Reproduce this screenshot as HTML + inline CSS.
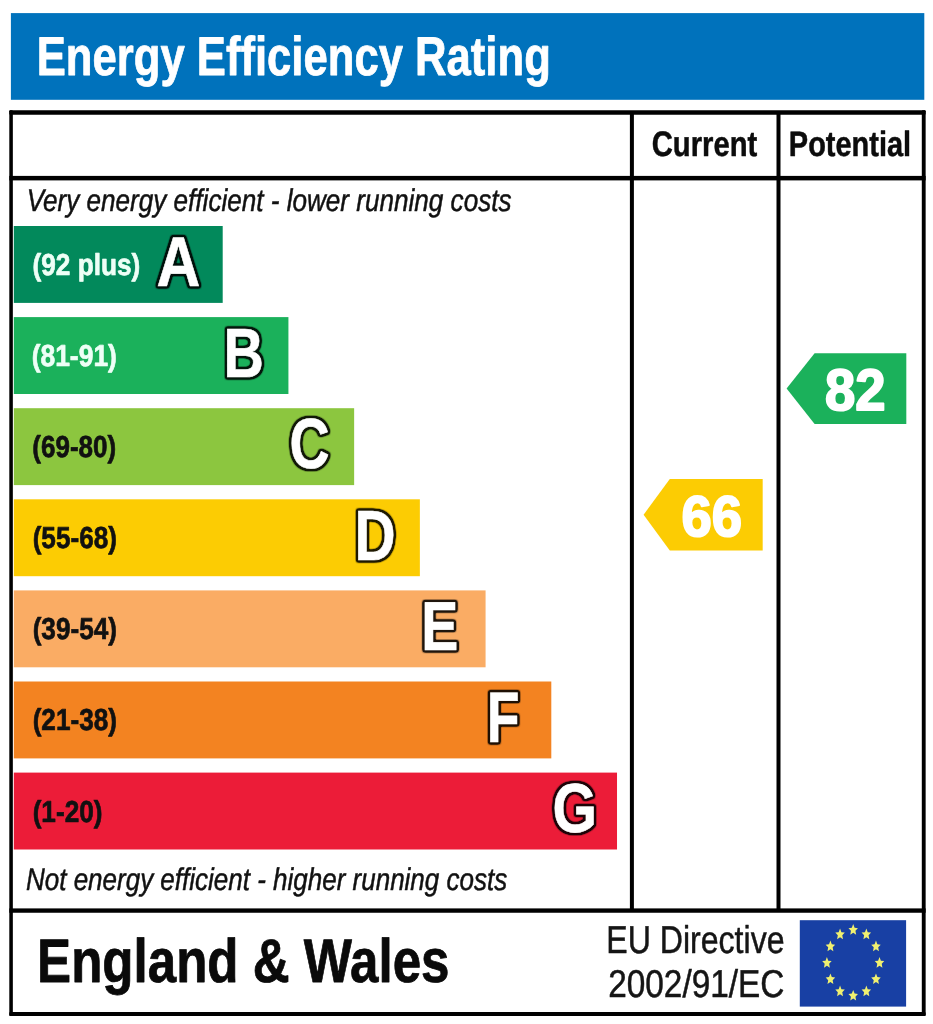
<!DOCTYPE html>
<html lang="en">
<head>
<meta charset="utf-8">
<title>Energy Efficiency Rating</title>
<style>
html,body{margin:0;padding:0;background:#fff;}
body{width:933px;height:1024px;overflow:hidden;font-family:"Liberation Sans",Arial,sans-serif;}
svg{display:block;}
</style>
</head>
<body>
<svg width="933" height="1024" viewBox="0 0 933 1024" font-family="Liberation Sans, Arial, Helvetica, sans-serif" xml:space="preserve" text-rendering="geometricPrecision">
<defs><filter id="ol" x="-15%" y="-15%" width="130%" height="130%" color-interpolation-filters="sRGB"><feMorphology in="SourceAlpha" operator="dilate" radius="1" result="d"/><feGaussianBlur in="d" stdDeviation="0.9" result="g"/><feComponentTransfer in="g" result="b"><feFuncA type="linear" slope="5" intercept="0"/></feComponentTransfer><feFlood flood-color="#000000" flood-opacity="0.88"/><feComposite in2="b" operator="in" result="o"/><feMerge><feMergeNode in="o"/><feMergeNode in="SourceGraphic"/></feMerge></filter></defs>
<rect x="0" y="0" width="933" height="1024" fill="#ffffff"/>
<rect x="10.9" y="13.1" width="913.4" height="86.7" fill="#0072bc"/>
<text transform="translate(36.76,74.80) scale(0.8006,1)" font-size="54.5" font-weight="bold" font-style="normal" fill="#ffffff"  stroke="#ffffff" stroke-width="0.8" vector-effect="non-scaling-stroke" stroke-linejoin="round">Energy Efficiency Rating</text>
<rect x="13.8" y="226.00" width="208.90" height="76.9" fill="#02895b"/>
<text transform="translate(32.54,274.90) scale(0.8650,1)" font-size="30.3" font-weight="bold" font-style="normal" fill="#eefff6"  stroke="#eefff6" stroke-width="0.7" vector-effect="non-scaling-stroke" stroke-linejoin="round">(92 plus)</text>
<g filter="url(#ol)"><text transform="translate(156.43,285.55) scale(0.8607,1)" font-size="70.58" font-weight="bold" font-style="normal" fill="#ffffff" stroke="#ffffff" stroke-width="0.6" vector-effect="non-scaling-stroke" stroke-linejoin="round">A</text></g>
<rect x="13.8" y="317.10" width="274.62" height="76.9" fill="#1bb15b"/>
<text transform="translate(31.63,366.00) scale(0.8734,1)" font-size="30.3" font-weight="bold" font-style="normal" fill="#eefff6"  stroke="#eefff6" stroke-width="0.7" vector-effect="non-scaling-stroke" stroke-linejoin="round">(81-91)</text>
<g filter="url(#ol)"><text transform="translate(223.62,376.75) scale(0.8019,1)" font-size="69.71" font-weight="bold" font-style="normal" fill="#ffffff" stroke="#ffffff" stroke-width="0.6" vector-effect="non-scaling-stroke" stroke-linejoin="round">B</text></g>
<rect x="13.8" y="408.20" width="340.34" height="76.9" fill="#8cc63f"/>
<text transform="translate(32.35,457.10) scale(0.8586,1)" font-size="30.3" font-weight="bold" font-style="normal" fill="#111111"  stroke="#111111" stroke-width="0.7" vector-effect="non-scaling-stroke" stroke-linejoin="round">(69-80)</text>
<g filter="url(#ol)"><text transform="translate(289.43,467.94) scale(0.7797,1)" font-size="71.27" font-weight="bold" font-style="normal" fill="#ffffff" stroke="#ffffff" stroke-width="0.6" vector-effect="non-scaling-stroke" stroke-linejoin="round">C</text></g>
<rect x="13.8" y="499.30" width="406.06" height="76.9" fill="#fccc03"/>
<text transform="translate(32.64,548.20) scale(0.8628,1)" font-size="30.3" font-weight="bold" font-style="normal" fill="#111111"  stroke="#111111" stroke-width="0.7" vector-effect="non-scaling-stroke" stroke-linejoin="round">(55-68)</text>
<g filter="url(#ol)"><text transform="translate(354.45,559.55) scale(0.7982,1)" font-size="71.3" font-weight="bold" font-style="normal" fill="#ffffff" stroke="#ffffff" stroke-width="0.6" vector-effect="non-scaling-stroke" stroke-linejoin="round">D</text></g>
<rect x="13.8" y="590.40" width="471.78" height="76.9" fill="#faac64"/>
<text transform="translate(32.64,639.30) scale(0.8628,1)" font-size="30.3" font-weight="bold" font-style="normal" fill="#111111"  stroke="#111111" stroke-width="0.7" vector-effect="non-scaling-stroke" stroke-linejoin="round">(39-54)</text>
<g filter="url(#ol)"><text transform="translate(421.14,649.95) scale(0.8022,1)" font-size="69.28" font-weight="bold" font-style="normal" fill="#ffffff" stroke="#ffffff" stroke-width="0.6" vector-effect="non-scaling-stroke" stroke-linejoin="round">E</text></g>
<rect x="13.8" y="681.50" width="537.50" height="76.9" fill="#f38321"/>
<text transform="translate(32.64,730.40) scale(0.8628,1)" font-size="30.3" font-weight="bold" font-style="normal" fill="#111111"  stroke="#111111" stroke-width="0.7" vector-effect="non-scaling-stroke" stroke-linejoin="round">(21-38)</text>
<g filter="url(#ol)"><text transform="translate(486.86,742.21) scale(0.7495,1)" font-size="71.68" font-weight="bold" font-style="normal" fill="#ffffff" stroke="#ffffff" stroke-width="0.6" vector-effect="non-scaling-stroke" stroke-linejoin="round">F</text></g>
<rect x="13.8" y="772.60" width="603.22" height="76.9" fill="#ec1c38"/>
<text transform="translate(32.64,821.50) scale(0.8642,1)" font-size="30.3" font-weight="bold" font-style="normal" fill="#111111"  stroke="#111111" stroke-width="0.7" vector-effect="non-scaling-stroke" stroke-linejoin="round">(1-20)</text>
<g filter="url(#ol)"><text transform="translate(552.46,832.06) scale(0.8273,1)" font-size="69.3" font-weight="bold" font-style="normal" fill="#ffffff" stroke="#ffffff" stroke-width="0.6" vector-effect="non-scaling-stroke" stroke-linejoin="round">G</text></g>
<text transform="translate(26.63,211.20) scale(0.8337,1)" font-size="31.3" font-weight="normal" font-style="italic" fill="#111111"  stroke="#111111" stroke-width="0.5" vector-effect="non-scaling-stroke" stroke-linejoin="round">Very energy efficient - lower running costs</text>
<text transform="translate(25.97,889.70) scale(0.8307,1)" font-size="31.3" font-weight="normal" font-style="italic" fill="#111111"  stroke="#111111" stroke-width="0.5" vector-effect="non-scaling-stroke" stroke-linejoin="round">Not energy efficient - higher running costs</text>
<rect x="9.30" y="110.20" width="916.35" height="4.50" fill="#000000" rx="1"/>
<rect x="9.30" y="1012.10" width="916.35" height="4.00" fill="#000000" rx="1"/>
<rect x="9.30" y="110.20" width="3.55" height="905.90" fill="#000000" rx="1"/>
<rect x="921.80" y="110.20" width="3.85" height="905.90" fill="#000000" rx="1"/>
<rect x="9.30" y="175.90" width="916.35" height="4.50" fill="#000000" />
<rect x="9.30" y="908.40" width="916.35" height="4.35" fill="#000000" />
<rect x="629.90" y="112.00" width="4.00" height="799.00" fill="#000000" />
<rect x="776.50" y="112.00" width="4.00" height="799.00" fill="#000000" />
<text transform="translate(651.68,156.00) scale(0.8284,1)" font-size="35.3" font-weight="bold" font-style="normal" fill="#0c0c0c"  stroke="#0c0c0c" stroke-width="0.5" vector-effect="non-scaling-stroke" stroke-linejoin="round">Current</text>
<text transform="translate(788.87,156.00) scale(0.8204,1)" font-size="35.3" font-weight="bold" font-style="normal" fill="#0c0c0c"  stroke="#0c0c0c" stroke-width="0.5" vector-effect="non-scaling-stroke" stroke-linejoin="round">Potential</text>
<polygon points="643.6,514.7 669.8,479.0 762.7,479.0 762.7,550.5 669.8,550.5" fill="#fccc03"/>
<text transform="translate(681.40,535.63) scale(0.9518,1)" font-size="57.18" font-weight="bold" font-style="normal" fill="#ffffff" stroke="#ffffff" stroke-width="2.0" vector-effect="non-scaling-stroke" stroke-linejoin="round">66</text>
<polygon points="786.6,388.6 814.6,353.2 906.3,353.2 906.3,424.0 814.6,424.0" fill="#1bb15b"/>
<text transform="translate(824.96,409.82) scale(0.9350,1)" font-size="58.31" font-weight="bold" font-style="normal" fill="#ffffff" stroke="#ffffff" stroke-width="2.0" vector-effect="non-scaling-stroke" stroke-linejoin="round">82</text>
<text transform="translate(37.08,982.00) scale(0.8292,1)" font-size="61.6" font-weight="bold" font-style="normal" fill="#0a0a0a"  stroke="#0a0a0a" stroke-width="0.8" vector-effect="non-scaling-stroke" stroke-linejoin="round">England &amp; Wales</text>
<text transform="translate(606.28,952.70) scale(0.8268,1)" font-size="38.8" font-weight="normal" font-style="normal" fill="#151515"  stroke="#151515" stroke-width="0.5" vector-effect="non-scaling-stroke" stroke-linejoin="round">EU Directive</text>
<text transform="translate(608.18,996.60) scale(0.8601,1)" font-size="38.8" font-weight="normal" font-style="normal" fill="#151515"  stroke="#151515" stroke-width="0.5" vector-effect="non-scaling-stroke" stroke-linejoin="round">2002/91/EC</text>
<rect x="799.8" y="920.2" width="106.3" height="86.4" fill="#1840a4"/>
<polygon points="853.20,924.10 854.58,927.76 857.96,928.18 855.43,930.86 856.14,934.77 853.20,932.77 850.26,934.77 850.97,930.86 848.44,928.18 851.82,927.76" fill="#f0f070"/>
<polygon points="866.35,928.51 867.73,932.16 871.11,932.58 868.58,935.26 869.29,939.18 866.35,937.18 863.41,939.18 864.12,935.26 861.59,932.58 864.97,932.16" fill="#f0f070"/>
<polygon points="875.98,940.55 877.36,944.21 880.73,944.63 878.21,947.31 878.92,951.22 875.98,949.22 873.04,951.22 873.74,947.31 871.22,944.63 874.60,944.21" fill="#f0f070"/>
<polygon points="879.50,957.00 880.88,960.66 884.26,961.08 881.73,963.76 882.44,967.67 879.50,965.67 876.56,967.67 877.27,963.76 874.74,961.08 878.12,960.66" fill="#f0f070"/>
<polygon points="875.98,973.45 877.36,977.11 880.73,977.53 878.21,980.21 878.92,984.12 875.98,982.12 873.04,984.12 873.74,980.21 871.22,977.53 874.60,977.11" fill="#f0f070"/>
<polygon points="866.35,985.49 867.73,989.15 871.11,989.57 868.58,992.25 869.29,996.17 866.35,994.17 863.41,996.17 864.12,992.25 861.59,989.57 864.97,989.15" fill="#f0f070"/>
<polygon points="853.20,989.90 854.58,993.56 857.96,993.98 855.43,996.66 856.14,1000.57 853.20,998.57 850.26,1000.57 850.97,996.66 848.44,993.98 851.82,993.56" fill="#f0f070"/>
<polygon points="840.05,985.49 841.43,989.15 844.81,989.57 842.28,992.25 842.99,996.17 840.05,994.17 837.11,996.17 837.82,992.25 835.29,989.57 838.67,989.15" fill="#f0f070"/>
<polygon points="830.42,973.45 831.80,977.11 835.18,977.53 832.66,980.21 833.36,984.12 830.42,982.12 827.48,984.12 828.19,980.21 825.67,977.53 829.04,977.11" fill="#f0f070"/>
<polygon points="826.90,957.00 828.28,960.66 831.66,961.08 829.13,963.76 829.84,967.67 826.90,965.67 823.96,967.67 824.67,963.76 822.14,961.08 825.52,960.66" fill="#f0f070"/>
<polygon points="830.42,940.55 831.80,944.21 835.18,944.63 832.66,947.31 833.36,951.22 830.42,949.22 827.48,951.22 828.19,947.31 825.67,944.63 829.04,944.21" fill="#f0f070"/>
<polygon points="840.05,928.51 841.43,932.16 844.81,932.58 842.28,935.26 842.99,939.18 840.05,937.18 837.11,939.18 837.82,935.26 835.29,932.58 838.67,932.16" fill="#f0f070"/>
</svg>
</body>
</html>
